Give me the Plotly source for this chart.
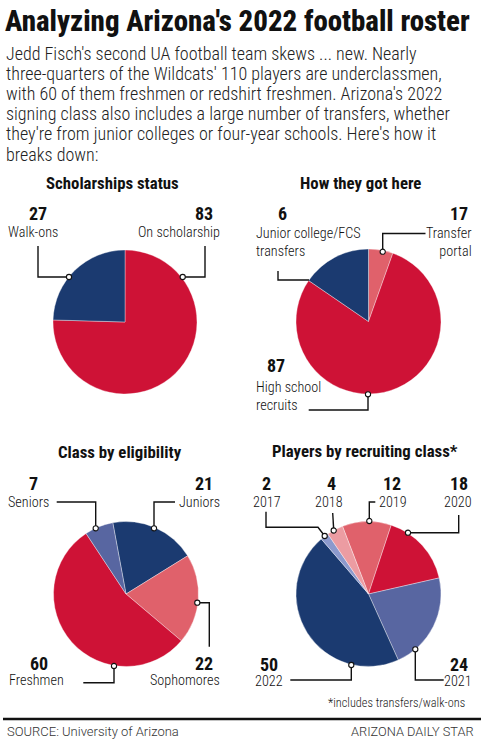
import plotly.graph_objects as go

W, H = 484, 744

# ---------------- data ----------------
schol_labels = ["On scholarship", "Walk-ons"]
schol_values = [83, 27]

# slice sizes as drawn (pink small slice, red, navy)
how_labels = ["Transfer portal", "High school recruits", "Junior college/FCS transfers"]
how_values = [6, 87, 17]

elig_labels = ["Juniors", "Sophomores", "Freshmen", "Seniors"]
elig_values = [21, 22, 60, 7]

rec_labels = ["2019", "2020", "2021", "2022", "2017", "2018"]
rec_values = [12, 18, 24, 50, 2, 4]

# callout texts (as printed on the graphic)
schol_callouts = [("27", "Walk-ons"), ("83", "On scholarship")]
how_callouts = [("6", "Junior college/FCS<br>transfers"), ("17", "Transfer<br>portal"), ("87", "High school<br>recruits")]
elig_callouts = [("7", "Seniors"), ("21", "Juniors"), ("22", "Sophomores"), ("60", "Freshmen")]
rec_callouts = [("2", "2017"), ("4", "2018"), ("12", "2019"), ("18", "2020"), ("24", "2021"), ("50", "2022")]

title = "Analyzing Arizona's 2022 football roster"
intro = ["Jedd Fisch's second UA football team skews ... new. Nearly",
         "three-quarters of the Wildcats' 110 players are underclassmen,",
         "with 60 of them freshmen or redshirt freshmen. Arizona's 2022",
         "signing class also includes a large number of transfers, whether",
         "they're from junior colleges or four-year schools. Here's how it",
         "breaks down:"]
subtitles = ["Scholarships status", "How they got here", "Class by eligibility", "Players by recruiting class*"]
footnote = "*includes transfers/walk-ons"
source = "SOURCE: University of Arizona"
credit = "ARIZONA DAILY STAR"

# ---------------- style ----------------
RED = "#CE1236"
NAVY = "#1B3A70"
SALMON = "#E0616B"
SLATE = "#5866A1"
PINK = "#EC9CA2"
LAVENDER = "#8C99CD"

FONT = "Roboto, Liberation Sans, sans-serif"


def px(x):
    return x / W


def py(y):
    return 1 - y / H


def dom(cx, cy, r):
    return dict(x=[px(cx - r), px(cx + r)], y=[py(cy + r), py(cy - r)])


fig = go.Figure()

pies = [
    (schol_labels, schol_values, [RED, NAVY], 0, (125, 322, 72)),
    (how_labels, how_values, [SALMON, RED, NAVY], 0, (368.5, 321.5, 72.5)),
    (elig_labels, elig_values, [NAVY, SALMON, RED, SLATE], -10.5, (126, 594, 72.5)),
    (rec_labels, rec_values, [SALMON, RED, SLATE, NAVY, LAVENDER, PINK], -21, (368.5, 594, 72.5)),
]
for labels, values, colors, rot, (cx, cy, r) in pies:
    fig.add_trace(go.Pie(
        labels=labels, values=values, sort=False, direction="clockwise",
        rotation=rot, marker=dict(colors=colors, line=dict(color="rgba(255,255,255,0.6)", width=0.6)),
        textinfo="none", hoverinfo="label+value", domain=dom(cx, cy, r), showlegend=False,
    ))

ann = []
shapes = []


def styled(s, stretch, weight, spacing):
    st = f"font-stretch:{stretch}%;font-weight:{weight}"
    if spacing:
        st += f";letter-spacing:{spacing}px"
    return "<br>".join(f'<span style="{st}">{part}</span>' for part in s.split("<br>"))


def text(x, y, s, size, color="#111", anchor="center", stretch=75, weight=400, spacing=0, font=FONT):
    ann.append(dict(x=px(x), y=py(y), xref="paper", yref="paper", text=styled(s, stretch, weight, spacing),
                    showarrow=False, xanchor=anchor, yanchor="middle", borderpad=0,
                    align=anchor if anchor != "center" else "center",
                    font=dict(family=font, size=size, color=color)))


def line(points, w=1.4):
    path = "M " + " L ".join(f"{px(x)},{py(y)}" for x, y in points)
    shapes.append(dict(type="path", path=path, xref="paper", yref="paper",
                       line=dict(color="#111", width=w)))


def dot(x, y, r=2.6):
    shapes.append(dict(type="circle", xref="paper", yref="paper",
                       x0=px(x - r), x1=px(x + r), y0=py(y + r), y1=py(y - r),
                       fillcolor="white", line=dict(color="#111", width=1.1)))


# title + intro
text(4, 21, title, 28.9, anchor="left", weight=800)
for i, s in enumerate(intro):
    text(5, 53 + i * 20.2, s, 18, color="#222", anchor="left", stretch=87, weight=300)

NUM = 18
LAB = 14.2
LW = 300
SUB = 16.8
# subtitles
text(112, 183, subtitles[0], SUB, weight=700)
text(360, 183, subtitles[1], SUB, weight=700)
text(120, 452, subtitles[2], SUB, weight=700)
text(364.5, 451, subtitles[3], SUB, weight=700)

# pie 1 callouts
text(38, 214, schol_callouts[0][0], NUM, weight=700)
text(32.5, 232, schol_callouts[0][1], LAB, weight=LW)
line([(38, 246), (38, 277), (69, 277)])
dot(69, 277)
text(214, 214, schol_callouts[1][0], NUM, anchor="right", weight=700)
text(221, 232, schol_callouts[1][1], LAB, anchor="right", weight=LW)
line([(205, 246), (205, 277), (182.7, 277)])
dot(182.7, 277)

# pie 2 callouts
text(282, 214, how_callouts[0][0], NUM, weight=700)
text(255, 242, how_callouts[0][1], LAB, anchor="left", weight=LW)
line([(278, 271), (278, 280), (309, 280)])
text(469, 214, how_callouts[1][0], NUM, anchor="right", weight=700)
text(473, 242, how_callouts[1][1], LAB, anchor="right", weight=LW)
line([(425.5, 233.5), (382.7, 233.5), (382.7, 251.7)])
dot(382.7, 251.7)
text(276, 365, how_callouts[2][0], NUM, weight=700)
text(255, 396, how_callouts[2][1], LAB, anchor="left", weight=LW)
line([(308.7, 410), (368, 410), (368, 394.3)])
dot(368, 394.3)

# pie 3 callouts
text(33, 483, elig_callouts[0][0], NUM, weight=700)
text(28, 502, elig_callouts[0][1], LAB, weight=LW)
line([(56.7, 502), (95.7, 502), (95.7, 528.3)])
dot(95.7, 528.3)
text(214, 483, elig_callouts[1][0], NUM, anchor="right", weight=700)
text(221, 502, elig_callouts[1][1], LAB, anchor="right", weight=LW)
line([(175, 502), (154, 502), (154, 528.3)])
dot(154, 528.3)
text(214, 663, elig_callouts[2][0], NUM, anchor="right", weight=700)
text(221, 680, elig_callouts[2][1], LAB, anchor="right", weight=LW)
line([(197.3, 602.7), (209.3, 602.7), (209.3, 646.7)])
dot(197.3, 602.7)
text(39, 663, elig_callouts[3][0], NUM, weight=700)
text(8, 680, elig_callouts[3][1], LAB, anchor="left", weight=LW)
line([(83.3, 682.7), (114, 682.7), (114, 666)])
dot(114, 666)

# pie 4 callouts
text(266, 483, rec_callouts[0][0], NUM, weight=700)
text(267, 502, rec_callouts[0][1], LAB, weight=LW)
line([(266, 511.7), (266, 527.3), (318, 527.3), (324.7, 536)])
dot(324.7, 536)
text(331.3, 483, rec_callouts[1][0], NUM, weight=700)
text(329.3, 502, rec_callouts[1][1], LAB, weight=LW)
line([(332.7, 513), (333.7, 530)])
dot(333.7, 530.5)
text(392, 483, rec_callouts[2][0], NUM, weight=700)
text(393, 502, rec_callouts[2][1], LAB, weight=LW)
line([(375.3, 502), (369.3, 502), (369.3, 521)])
dot(369.3, 521)
text(469, 483, rec_callouts[3][0], NUM, anchor="right", weight=700)
text(472.5, 502, rec_callouts[3][1], LAB, anchor="right", weight=LW)
line([(458.7, 515), (458.7, 532.7), (408, 532.7)])
dot(408, 532.7)
text(469, 664.5, rec_callouts[4][0], NUM, anchor="right", weight=700)
text(472.5, 681, rec_callouts[4][1], LAB, anchor="right", weight=LW)
line([(415.3, 649.3), (415.3, 680), (443.7, 680)])
dot(415.3, 649.3)
text(268.7, 664.5, rec_callouts[5][0], NUM, weight=700)
text(268.7, 681, rec_callouts[5][1], LAB, weight=LW)
line([(290.3, 680), (351.3, 680), (351.3, 665)])
dot(351.3, 665)

# footer
text(466, 703, footnote, 12.3, anchor="right", color="#222", weight=300)
shapes.append(dict(type="line", xref="paper", yref="paper", x0=px(3), x1=px(481), y0=py(719), y1=py(719),
                   line=dict(color="#111", width=2.6)))
text(6, 731.5, source, 13, anchor="left", color="#333", stretch=100, weight=300)
text(475, 731.5, credit, 12.8, anchor="right", color="#333", stretch=93, weight=300)

fig.update_layout(
    width=W, height=H, margin=dict(l=0, r=0, t=0, b=0),
    paper_bgcolor="white", plot_bgcolor="white",
    annotations=ann, shapes=shapes,
)

fig.write_html("out.html", config={"displayModeBar": False},
               post_script="document.body.style.margin='0px';")
